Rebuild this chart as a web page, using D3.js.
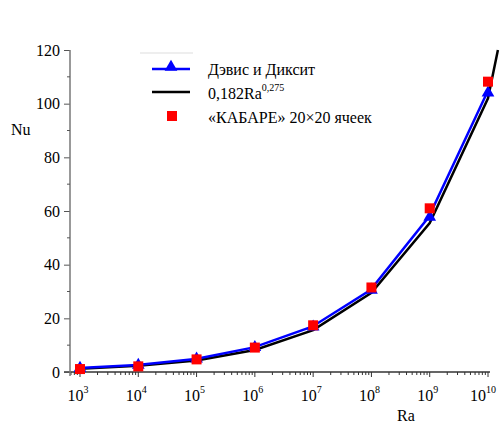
<!DOCTYPE html>
<html>
<head>
<meta charset="utf-8">
<script src="https://cdn.jsdelivr.net/npm/d3@7"></script>
<style>
  body { margin: 0; background: #fff; }
</style>
</head>
<body>
<div id="chart"></div>
<script>
// decades of Ra (exponents)
const raExp = [3, 4, 5, 6, 7, 8, 9, 10];
// Davis & Dixit benchmark
const davisNu = [1.1, 2.2, 4.5, 8.8, 16.5, 30.2, 57.4, 103.7];
// CABARET 20x20
const cabaretNu = [1.1, 2.1, 4.7, 9.1, 17.4, 31.5, 61.0, 108.2];
// correlation line 0.182 Ra^0.275
const corrExp = [3, 4, 5, 6, 7, 8, 9, 10, 10.17];
const corrNu = [1.2, 2.3, 4.3, 8.2, 15.6, 29.5, 55.5, 102, 120];
const yTicks = [0, 20, 40, 60, 80, 100, 120];
const yMinor = [10, 30, 50, 70, 90, 110];

const w = 502, h = 425;
const serif = "Liberation Serif";
const fs = 16;

const svg = d3.select("#chart").append("svg")
  .attr("width", w)
  .attr("height", h);

const xScale = d3.scaleLog().domain([1e3, 1e10]).range([80, 488]);
const yScale = d3.scaleLinear().domain([0, 120]).range([372, 50]);

// minor ticks on log axis
const xMinor = [];
for (let e = 2; e <= 9; e++) {
  for (let k = 2; k <= 9; k++) {
    const v = k * Math.pow(10, e);
    if (v >= Math.pow(10, 2.83) && v <= 1.2e10) xMinor.push(v);
  }
}

// x axis
const xAxisG = svg.append("g")
  .attr("transform", "translate(0,372)");
xAxisG.append("line")
  .attr("x1", 64).attr("x2", 490)
  .attr("stroke", "#333").attr("stroke-width", 1.5);
xAxisG.selectAll(".minor")
  .data(xMinor)
  .enter().append("line")
  .attr("x1", d => xScale(d)).attr("x2", d => xScale(d))
  .attr("y1", 0).attr("y2", 3)
  .attr("stroke", "#333");
xAxisG.selectAll(".major")
  .data(raExp)
  .enter().append("line")
  .attr("x1", d => xScale(Math.pow(10, d))).attr("x2", d => xScale(Math.pow(10, d)))
  .attr("y1", 0).attr("y2", 5)
  .attr("stroke", "#333");

const xl = svg.append("g").selectAll("text")
  .data(raExp)
  .enter().append("text")
  .attr("x", d => xScale(Math.pow(10, d)) - (d >= 10 ? 5 : 2))
  .attr("y", 401)
  .attr("text-anchor", "middle")
  .attr("font-size", fs);
xl.append("tspan").text("10");
xl.append("tspan")
  .attr("dy", -8)
  .attr("font-size", 10)
  .text(d => d);

// y axis
const yAxis = d3.axisLeft(yScale)
  .tickValues(yTicks)
  .tickSize(6)
  .tickPadding(4)
  .tickFormat(d => d);
const yAxisG = svg.append("g")
  .attr("transform", "translate(70,0)")
  .call(yAxis)
  .attr("font-size", fs);
yAxisG.select(".domain").remove();
yAxisG.append("line")
  .attr("y1", 50).attr("y2", 376)
  .attr("stroke", "#777").attr("stroke-width", 1.5);
yAxisG.selectAll(".tick line").attr("stroke", "#555");
yAxisG.selectAll(".tick text").attr("fill", "#000");
yAxisG.selectAll(".yminor")
  .data(yMinor)
  .enter().append("line")
  .attr("x1", -3).attr("x2", 0)
  .attr("y1", d => yScale(d)).attr("y2", d => yScale(d))
  .attr("stroke", "#555");

svg.append("text").attr("x", 11).attr("y", 135)
  .attr("font-size", fs).text("Nu");
svg.append("text").attr("x", 397).attr("y", 421)
  .attr("font-size", fs).text("Ra");

// lines
const line = d3.line()
  .x(d => xScale(Math.pow(10, d[0])))
  .y(d => yScale(d[1]));

svg.append("path")
  .datum(corrExp.map((e, i) => [e, corrNu[i]]))
  .attr("d", line)
  .attr("fill", "none")
  .attr("stroke", "#000")
  .attr("stroke-width", 2.5);

svg.append("path")
  .datum(raExp.map((e, i) => [e, davisNu[i]]))
  .attr("d", line)
  .attr("fill", "none")
  .attr("stroke", "#0000ff")
  .attr("stroke-width", 2.5)
  .attr("transform", "translate(-1,-1)");

const tri = d3.symbol().type(d3.symbolTriangle).size(70);
svg.selectAll(".tri")
  .data(raExp.map((e, i) => [e, davisNu[i]]))
  .enter().append("path")
  .attr("d", tri)
  .attr("transform", d => "translate(" + xScale(Math.pow(10, d[0])) + "," + (yScale(d[1]) - 1) + ")")
  .attr("fill", "#0000ff");

svg.selectAll(".sq")
  .data(raExp.map((e, i) => [e, cabaretNu[i]]))
  .enter().append("rect")
  .attr("x", d => xScale(Math.pow(10, d[0])) - 5)
  .attr("y", d => yScale(d[1]) - 5)
  .attr("width", 10)
  .attr("height", 10)
  .attr("fill", "#ff0000");

// legend
const lg = svg.append("g").attr("font-size", fs);
lg.append("line").attr("x1", 140).attr("x2", 193).attr("y1", 53).attr("y2", 53)
  .attr("stroke", "#ddd");
lg.append("line").attr("x1", 152).attr("x2", 190).attr("y1", 69).attr("y2", 69)
  .attr("stroke", "#0000ff").attr("stroke-width", 2.5);
lg.append("path").attr("d", tri).attr("transform", "translate(171,67)").attr("fill", "#0000ff");
lg.append("text").attr("x", 208).attr("y", 75).text("Дэвис и Диксит");
lg.append("line").attr("x1", 152).attr("x2", 190).attr("y1", 92).attr("y2", 92)
  .attr("stroke", "#000").attr("stroke-width", 2.5);
const t2 = lg.append("text").attr("x", 208).attr("y", 99);
t2.append("tspan").text("0,182Ra");
t2.append("tspan").attr("dy", -8).attr("font-size", 10).text("0,275");
lg.append("rect").attr("x", 167).attr("y", 111).attr("width", 10).attr("height", 10)
  .attr("fill", "#ff0000");
lg.append("text").attr("x", 208).attr("y", 123).text("«КАБАРЕ» 20×20 ячеек");

svg.selectAll("text, tspan").style("font-family", serif, "important");
</script>
</body>
</html>
